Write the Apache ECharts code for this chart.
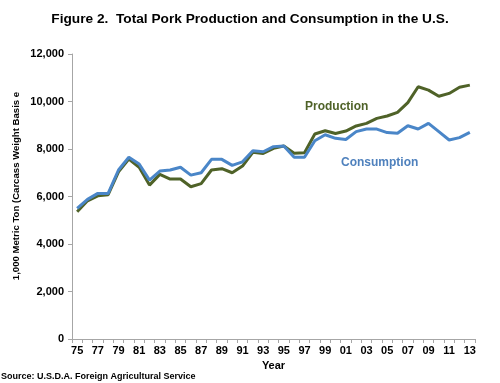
<!DOCTYPE html>
<html>
<head>
<meta charset="utf-8">
<script src="https://cdn.jsdelivr.net/npm/echarts@6/dist/echarts.min.js"></script>
<style>html,body{margin:0;padding:0;background:#fff}#c{width:500px;height:383px}</style>
</head>
<body>
<div id="c"></div>
<script>
var years = ['75','76','77','78','79','80','81','82','83','84','85','86','87','88','89','90','91','92','93','94','95','96','97','98','99','00','01','02','03','04','05','06','07','08','09','10','11','12','13'];
var production = [5360,5820,6030,6075,7040,7580,7230,6480,6930,6735,6735,6410,6540,7115,7170,7000,7280,7860,7815,8030,8125,7820,7845,8630,8770,8650,8755,8970,9080,9290,9390,9540,9950,10620,10480,10220,10340,10600,10690];
var consumption = [5500,5880,6130,6130,7115,7650,7370,6690,7070,7115,7230,6900,7000,7565,7565,7310,7460,7930,7885,8100,8125,7650,7650,8350,8600,8450,8400,8730,8840,8840,8690,8660,8980,8840,9080,8730,8380,8480,8700];
var yTicks = [0,2000,4000,6000,8000,10000,12000];

var chart = echarts.init(document.getElementById('c'), null, {renderer:'canvas'});
var F = 'Liberation Sans, Arial, sans-serif';
chart.setOption({
  animation:false,
  backgroundColor:'#fff',
  title:{text:'Figure 2.  Total Pork Production and Consumption in the U.S.',left:'center',top:7,
    textStyle:{fontFamily:F,fontSize:13.7,fontWeight:'bold',color:'#000'}},
  grid:{left:72,right:25,top:54,bottom:44},
  xAxis:{type:'category',data:years,boundaryGap:true,
    name:'Year',nameLocation:'middle',nameGap:21,
    nameTextStyle:{fontFamily:F,fontSize:11,fontWeight:'bold',color:'#000'},
    axisLine:{lineStyle:{color:'#A6A6A6',width:1}},
    axisTick:{show:true,interval:0,length:4,lineStyle:{color:'#A6A6A6'}},
    axisLabel:{interval:1,fontFamily:F,fontSize:11,fontWeight:'bold',color:'#000',margin:6},
    splitLine:{show:false}},
  yAxis:{type:'value',min:yTicks[0],max:yTicks[yTicks.length-1],interval:2000,
    axisLine:{show:true,lineStyle:{color:'#A6A6A6',width:1}},
    axisTick:{show:true,length:4,lineStyle:{color:'#A6A6A6'}},
    axisLabel:{fontFamily:F,fontSize:11,fontWeight:'bold',color:'#000',margin:8,
      formatter:function(v){return v.toLocaleString('en-US');}},
    splitLine:{show:false}},
  series:[
    {name:'Production',type:'line',data:production,symbol:'none',
      lineStyle:{color:'#4F6228',width:3},itemStyle:{color:'#4F6228'}},
    {name:'Consumption',type:'line',data:consumption,symbol:'none',
      lineStyle:{color:'#4A86C8',width:3},itemStyle:{color:'#4A86C8'}}
  ],
  graphic:[
    {type:'text',x:16,y:186,rotation:Math.PI/2,style:{text:'1,000 Metric Ton (Carcass Weight Basis e',font:'bold 9.6px '+F,fill:'#000',align:'center',verticalAlign:'middle'}},
    {type:'text',left:305,top:101,style:{text:'Production',font:'bold 12px '+F,fill:'#4F6228'}},
    {type:'text',left:341,top:157,style:{text:'Consumption',font:'bold 12px '+F,fill:'#4F81BD'}},
    {type:'text',left:1,top:372,style:{text:'Source: U.S.D.A. Foreign Agricultural Service',font:'bold 9px '+F,fill:'#000'}}
  ]
});
</script>
</body>
</html>
